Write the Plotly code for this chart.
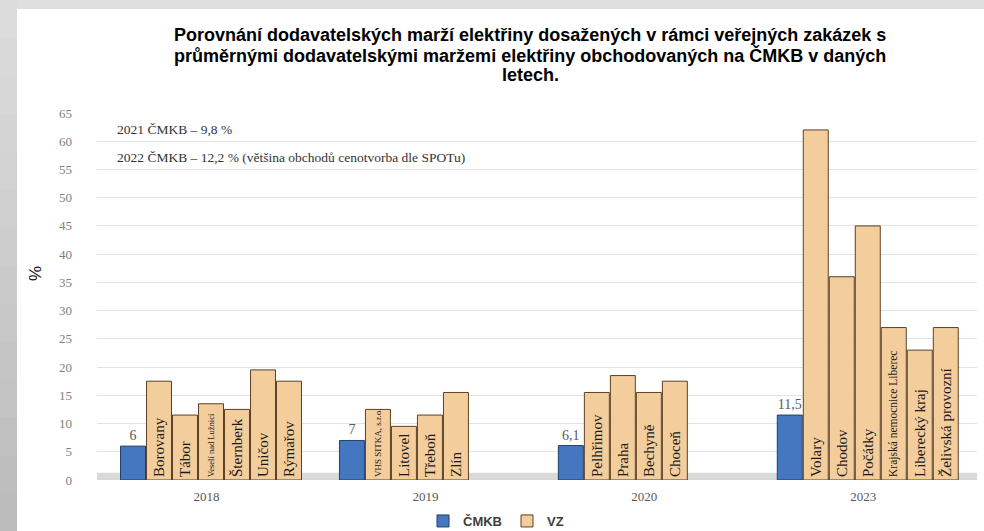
import plotly.graph_objects as go

# ---- data ----
years = ["2018", "2019", "2020", "2023"]
cmkb_values = [6, 7, 6.1, 11.5]
vz_names = [
    ["Borovany", "Tábor", "Veselí nad Lužnicí", "Šternberk", "Uničov", "Rýmařov"],
    ["VHS SITKA, s.r.o.", "Litovel", "Třeboň", "Zlín"],
    ["Pelhřimov", "Praha", "Bechyně", "Choceň"],
    ["Volary", "Chodov", "Počátky", "Krajská nemocnice Liberec", "Liberecký kraj", "Želivská provozní"],
]
vz_values = [
    [17.5, 11.5, 13.5, 12.5, 19.5, 17.5],
    [12.5, 9.5, 11.5, 15.5],
    [15.5, 18.5, 15.5, 17.5],
    [62, 36, 45, 27, 23, 27],
]
small_names = {"Veselí nad Lužnicí": 8.5, "VHS SITKA, s.r.o.": 9, "Krajská nemocnice Liberec": 11.5}
notes = ["2021 ČMKB – 9,8 %", "2022 ČMKB – 12,2 % (většina obchodů cenotvorba dle SPOTu)"]
title_lines = [
    "Porovnání dodavatelských marží elektřiny dosažených v rámci veřejných zakázek s",
    "průměrnými dodavatelskými maržemi elektřiny obchodovaných na ČMKB v daných",
    "letech.",
]

# ---- layout geometry (slot units) ----
W = 8.42          # slots per year group
OFF = 1.385       # offset of first bar from group start
L, R, T, B = 97, 7, 113, 51
FW, FH = 984, 531
PW, PH = FW - L - R, FH - T - B

cm_x = [g * W for g in range(len(years))]
vz_x, vz_y, vz_t, vz_sz = [], [], [], []
for g, (names, vals) in enumerate(zip(vz_names, vz_values)):
    for j, (n, v) in enumerate(zip(names, vals)):
        vz_x.append(g * W + 1 + j)
        vz_y.append(v)
        vz_t.append(n)
        vz_sz.append(small_names.get(n, 15))

fig = go.Figure()
fig.add_trace(go.Bar(
    name="ČMKB", x=cm_x, y=cmkb_values, width=0.96,
    marker=dict(color="#4577c0", line=dict(color="#233f68", width=1)),
    text=[f"{v:g}".replace(".", ",") for v in cmkb_values],
    textposition="outside", cliponaxis=False,
    textfont=dict(family="Liberation Serif", size=14, color="#595959"),
))
fig.add_trace(go.Bar(
    name="VZ", x=vz_x, y=vz_y, width=0.96,
    marker=dict(color="#f3cd9c", line=dict(color="#5e4024", width=1)),
    text=vz_t, textposition="inside", insidetextanchor="start", textangle=-90,
    textfont=dict(family="Liberation Serif", size=vz_sz, color="#1a1a1a"),
    constraintext="none",
))


def px_to_paper_x(px):
    return (px - L) / PW


def px_to_paper_y(py):
    return (FH - B - py) / PH


shapes = []
# gray frame (left gradient strip and top strip)
n = 14
for k in range(n):
    c = int(0xdc - (0xdc - 0xbc) * k / (n - 1))
    col = f"rgb({c},{c},{c})"
    shapes.append(dict(type="rect", xref="paper", yref="paper", layer="below",
                       x0=px_to_paper_x(0), x1=px_to_paper_x(17),
                       y0=px_to_paper_y(FH * (k + 1) / n + 1), y1=px_to_paper_y(FH * k / n),
                       fillcolor=col, line=dict(width=0)))
shapes.append(dict(type="rect", xref="paper", yref="paper", layer="below",
                   x0=px_to_paper_x(17), x1=px_to_paper_x(FW), y0=px_to_paper_y(9), y1=px_to_paper_y(0),
                   fillcolor="#dedede", line=dict(width=0)))
# floor
shapes.append(dict(type="rect", xref="paper", yref="y", layer="below",
                   x0=0.0, x1=1.0, y0=0, y1=1.3, fillcolor="#d9d9d9", line=dict(width=0)))

annotations = []
for i, t in enumerate(title_lines):
    annotations.append(dict(text=f"<b>{t}</b>", xref="paper", yref="paper", x=px_to_paper_x(530),
                            y=px_to_paper_y(35 + 20 * i), xanchor="center", yanchor="middle",
                            showarrow=False, font=dict(family="Liberation Sans", size=18, color="#000000")))
for i, t in enumerate(notes):
    annotations.append(dict(text=t, xref="paper", yref="paper", x=px_to_paper_x(115),
                            y=px_to_paper_y(129 + 28 * i), xanchor="left", yanchor="middle",
                            showarrow=False, font=dict(family="Liberation Serif", size=13.5, color="#333333")))
annotations.append(dict(text="%", xref="paper", yref="paper", x=px_to_paper_x(35), y=px_to_paper_y(274),
                        xanchor="center", yanchor="middle",
                        textangle=-90, showarrow=False, font=dict(family="Liberation Sans", size=17, color="#111111")))

fig.update_layout(
    width=FW, height=FH,
    margin=dict(l=L, r=R, t=T, b=B, autoexpand=False),
    paper_bgcolor="white", plot_bgcolor="rgba(0,0,0,0)",
    barmode="overlay",
    xaxis=dict(range=[-OFF, -OFF + PW / 26], tickvals=[g * W + W / 2 - OFF for g in range(len(years))],
               ticktext=years, showgrid=False, zeroline=False, showline=False, ticks="",
               ticklabelstandoff=7, automargin=False,
               tickfont=dict(family="Liberation Serif", size=13, color="#595959")),
    yaxis=dict(range=[0, 65], dtick=5, showgrid=True, gridcolor="#e2e2e2", gridwidth=1,
               zeroline=False, showline=False, ticks="", ticklabelstandoff=24, automargin=False,
               tickfont=dict(family="Liberation Serif", size=13, color="#808080")),
    legend=dict(orientation="h", x=px_to_paper_x(496), xanchor="center", y=px_to_paper_y(521), yanchor="middle",
                font=dict(family="Liberation Sans", size=13, color="#404040", weight="bold"),
                itemwidth=30, bgcolor="rgba(0,0,0,0)", traceorder="normal"),
    shapes=shapes, annotations=annotations,
    separators=", ",
)
fig.write_html("out.html", config={"displayModeBar": False},
               post_script="document.body.style.margin='0';document.body.style.overflow='hidden';")
